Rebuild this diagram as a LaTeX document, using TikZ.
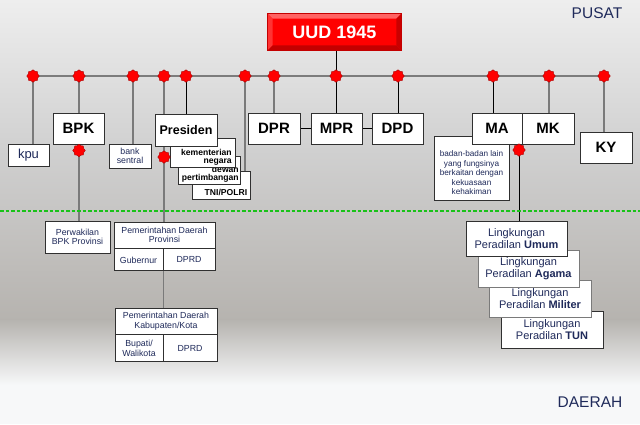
\documentclass[tikz,border=0pt]{standalone}
\usepackage{fontspec}
\setmainfont{Liberation Sans}
\usetikzlibrary{positioning,shapes.geometric,calc}
\definecolor{bgA}{HTML}{EEEEEE}
\definecolor{bgB}{HTML}{D0D0D0}
\definecolor{bgC}{HTML}{B6B3AF}
\definecolor{bgD}{HTML}{F7F8F9}
\definecolor{boxline}{HTML}{303030}
\definecolor{softline}{HTML}{7A7A7A}
\definecolor{busgrey}{HTML}{7C7C7C}
\definecolor{daerahgreen}{HTML}{19C219}
\definecolor{navytext}{HTML}{1F2A5A}
\definecolor{uudred}{HTML}{FF0000}
\definecolor{uudlight}{HTML}{FF6262}
\definecolor{uuddark}{HTML}{C40000}
\pgfdeclarelayer{back}
\pgfdeclarelayer{lines}
\pgfsetlayers{back,lines,main}
\tikzset{
  orgbox/.style={draw=boxline, fill=white, line width=0.9pt, inner sep=0pt, align=center},
  bigbox/.style={orgbox, minimum width=51pt, minimum height=31pt,
    font=\bfseries\fontsize{15}{15}\selectfont},
  presbox/.style={orgbox, minimum width=62pt, minimum height=32pt,
    font=\bfseries\fontsize{12.5}{12.5}\selectfont},
  smallbox/.style={orgbox, font=\fontsize{8.8}{9.6}\selectfont, text=navytext},
  cellbox/.style={smallbox, minimum height=22pt},
  courtbox/.style={orgbox, minimum width=101pt, minimum height=36pt,
    font=\fontsize{11}{12.5}\selectfont, text=navytext},
  stacktxt/.style={inner sep=0pt, align=right, font=\bfseries\fontsize{8.6}{7.6}\selectfont},
  badantxt/.style={inner sep=0pt, align=center, font=\fontsize{8.2}{9.5}\selectfont, text=navytext},
  uudbox/.style={fill=uudred, draw=uuddark, line width=0.6pt, minimum width=133pt,
    minimum height=36pt, inner sep=0pt, text=white, font=\bfseries\fontsize{18}{18}\selectfont},
  regiontxt/.style={inner sep=0pt, text=navytext, font=\fontsize{15.5}{15.5}\selectfont},
  reddot/.style={star, star points=8, star point ratio=1.22, minimum size=12.5pt,
    inner sep=0pt, fill=red, draw=red!65!black, line width=0.4pt},
  bus/.style={draw=busgrey, line width=1.1pt},
  link/.style={draw=black, line width=0.9pt},
  softlink/.style={draw=softline, line width=1.1pt},
  daerahline/.style={draw=daerahgreen, line width=1.1pt, dash pattern=on 3.5pt off 2pt}
}
\begin{document}
\begin{tikzpicture}[x=1pt,y=-1pt]
\useasboundingbox (0,0) rectangle (640,424);
% background
\begin{pgfonlayer}{back}
  \shade[top color=bgA, bottom color=bgB] (0,0) rectangle (640,150);
  \shade[top color=bgB, bottom color=bgC] (0,149.5) rectangle (640,320);
  \shade[top color=bgC, bottom color=bgD] (0,319.5) rectangle (640,385);
  \fill[bgD] (0,384.5) rectangle (640,424);
\end{pgfonlayer}

\node[regiontxt] (pusat) at (597,13) {PUSAT};
\node[regiontxt] (daerah) at (590,402) {DAERAH};
\coordinate (dash-l) at (0,211);
\coordinate (dash-r) at (640,211);
\draw[daerahline] (dash-l) -- (dash-r);

% points on the bus
\foreach \name/\x in {kpu-b/33, bpk-b/79, bank-b/133, pemda-b/164, pres-b/186, tni-b/245,
  dpr-b/274, mpr-b/336, dpd-b/398, ma-b/493, mk-b/549, ky-b/604}
  \coordinate (\name) at (\x,76);

% top
\node[uudbox] (uud) at (334.5,32) {UUD 1945};
\fill[uudlight] (uud.north west) -- (uud.north east) -- ($(uud.north east)+(-5,5)$) -- ($(uud.north west)+(5,5)$) -- cycle;
\fill[uudred!80!white] (uud.north west) -- ($(uud.north west)+(5,5)$) -- ($(uud.south west)+(5,-5)$) -- (uud.south west) -- cycle;
\fill[uuddark] (uud.south west) -- ($(uud.south west)+(5,-5)$) -- ($(uud.south east)+(-5,-5)$) -- (uud.south east) -- cycle;
\fill[uuddark!90!red] (uud.north east) -- (uud.south east) -- ($(uud.south east)+(-5,-5)$) -- ($(uud.north east)+(-5,5)$) -- cycle;
\draw[uuddark, line width=0.6pt] (uud.north west) rectangle (uud.south east);

% pusat
\node[smallbox, minimum width=41pt, minimum height=22pt, font=\fontsize{13}{13}\selectfont] (kpu) at (28.5,155) {kpu};
\node[bigbox] (bpk) at (78.5,128.5) {BPK};
\node[smallbox, minimum width=42pt, minimum height=24pt, font=\fontsize{8.8}{8.4}\selectfont] (bank) at (130,156) {bank\\sentral};
\node[orgbox, minimum width=58pt, minimum height=28pt] (tni) at (221,185) {};
\node[stacktxt, anchor=south east] (tni-t) at ($(tni.south east)+(-3,-4)$) {TNI/POLRI};
\node[orgbox, minimum width=62pt, minimum height=28pt] (dewan) at (209,170) {};
\node[stacktxt, anchor=south east] (dewan-t) at ($(dewan.south east)+(-1.5,-2)$) {dewan\\pertimbangan};
\node[orgbox, minimum width=65pt, minimum height=29pt] (kem) at (202.5,152.5) {};
\node[stacktxt, anchor=south east] (kem-t) at ($(kem.south east)+(-3.5,-2)$) {kementerian\\negara};
\node[presbox] (pres) at (186,130) {Presiden};
\node[bigbox, minimum width=52pt] (dpr) at (274,128.5) {DPR};
\node[bigbox] (mpr) at (336.5,128.5) {MPR};
\node[bigbox] (dpd) at (397.5,128.5) {DPD};
\node[orgbox, minimum width=75pt, minimum height=64pt] (badan) at (471.5,168) {};
\node[badantxt] (badan-t) at (471.5,173) {badan-badan lain\\yang fungsinya\\berkaitan dengan\\kekuasaan\\kehakiman};
\node[bigbox, minimum width=50pt] (ma) at (497,128.5) {MA};
\node[bigbox, minimum width=52pt] (mk) at (548,128.5) {MK};
\node[bigbox, minimum width=52pt] (ky) at (606,147.5) {KY};

% daerah
\node[smallbox, minimum width=65pt, minimum height=32pt] (perw) at (77.5,237) {Perwakilan\\BPK Provinsi};
\node[smallbox, minimum width=101pt, minimum height=26pt] (prov) at (164.5,235) {Pemerintahan Daerah\\Provinsi};
\node[cellbox, minimum width=49pt, anchor=north west] (gub) at (prov.south west) {Gubernur};
\node[cellbox, minimum width=52pt, anchor=north east] (dprd-p) at (prov.south east) {DPRD};
\node[smallbox, minimum width=102pt, minimum height=26pt] (kab) at (166,321) {Pemerintahan Daerah\\Kabupaten/Kota};
\node[cellbox, minimum width=48pt, minimum height=27pt, anchor=north west] (bup) at (kab.south west) {Bupati/\\Walikota};
\node[cellbox, minimum width=54pt, minimum height=27pt, anchor=north east] (dprd-k) at (kab.south east) {DPRD};

\node[courtbox, minimum width=102pt, minimum height=37pt] (tun) at (552,329.5) {Lingkungan\\Peradilan \textbf{TUN}};
\node[courtbox, draw=softline, minimum width=102pt, minimum height=37pt] (militer) at (540,298.5) {Lingkungan\\Peradilan \textbf{Militer}};
\node[courtbox, draw=softline, minimum height=37pt] (agama) at (528.5,268.5) {Lingkungan\\Peradilan \textbf{Agama}};
\node[courtbox, minimum height=35pt] (umum) at (516.5,238.5) {Lingkungan\\Peradilan \textbf{Umum}};

\coordinate (bpk-j) at ($(bpk-b |- bpk.south)+(0,6)$);
\coordinate (pemda-j) at (pemda-b |- 0,157);
\coordinate (ma-j) at (519,150);

% connectors
\begin{pgfonlayer}{lines}
  \draw[bus] (kpu-b) -- (ky-b);
  \draw[link] (mpr-b |- uud.south) -- (mpr-b);
  \draw[softlink] (kpu-b) -- (kpu-b |- kpu.north);
  \draw[softlink] (bpk-b) -- (bpk-b |- bpk.north);
  \draw[softlink] (bank-b) -- (bank-b |- bank.north);
  \draw[softlink] (pemda-b) -- (pemda-b |- prov.north);
  \draw[link] (pres-b) -- (pres-b |- pres.north);
  \draw[softlink] (tni-b) -- (tni-b |- tni.north);
  \draw[softlink] (dpr-b) -- (dpr-b |- dpr.north);
  \draw[link] (mpr-b) -- (mpr-b |- mpr.north);
  \draw[link] (dpd-b) -- (dpd-b |- dpd.north);
  \draw[link] (ma-b) -- (ma-b |- ma.north);
  \draw[softlink] (mk-b) -- (mk-b |- mk.north);
  \draw[softlink] (ky-b) -- (ky-b |- ky.north);
  \draw[link] (dpr.east) -- (mpr.west);
  \draw[link] (mpr.east) -- (dpd.west);
  \draw[softlink] (bpk-b |- bpk.south) -- (bpk-b |- perw.north);
  \draw[softlink] (gub.south east) -- (gub.south east |- kab.north);
  \draw[link] (ma-j) -- (ma-j |- umum.north);
\end{pgfonlayer}

% red points
\foreach \name in {kpu-b, bpk-b, bank-b, pemda-b, pres-b, tni-b, dpr-b, mpr-b, dpd-b, ma-b, mk-b, ky-b, bpk-j, pemda-j, ma-j}
  \node[reddot] (\name-dot) at (\name) {};
\end{tikzpicture}
\end{document}
